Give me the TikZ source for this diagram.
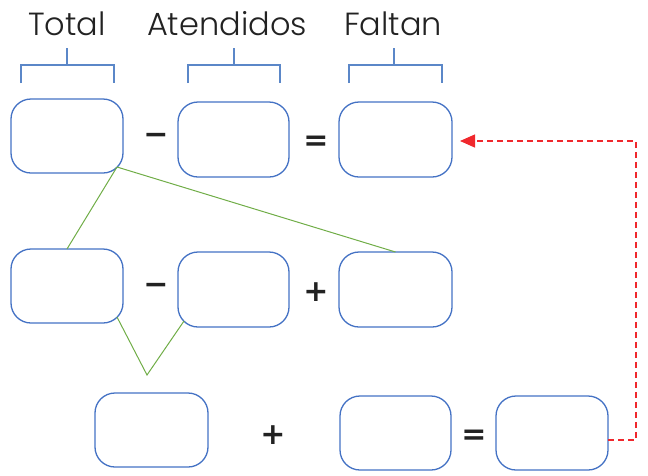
\documentclass[tikz,border=0pt]{standalone}
\usepackage{fontspec}
\setmainfont{Poppins}[UprightFont=* Light, BoldFont=* Medium]
\newfontfamily\opfont{DejaVu Sans}[UprightFont=* Bold]
\usetikzlibrary{arrows.meta,calc}
\definecolor{boxblue}{HTML}{4472C4}
\definecolor{brblue}{HTML}{5B87C8}
\definecolor{lgreen}{HTML}{70AD47}
\definecolor{lred}{HTML}{F0282D}
\definecolor{ink}{HTML}{222222}
\tikzset{
  slot/.style={draw=boxblue, line width=1.3pt, rounded corners=20pt, inner sep=0pt, outer sep=0pt},
  op/.style={font=\opfont\fontsize{30}{32}\selectfont, text=ink, inner sep=0pt},
  head/.style={font=\fontsize{32}{34}\selectfont, text=ink, anchor=base, inner sep=0pt},
  brace/.style={draw=brblue, line width=2.4pt},
  link/.style={draw=lgreen, line width=1pt},
  back/.style={draw=lred, line width=1.3pt, dash pattern=on 6pt off 4pt, -{Triangle[length=15pt,width=13pt]}},
}
\begin{document}
\begin{tikzpicture}[x=1pt,y=1pt]
\useasboundingbox (0,0) rectangle (648,-475);
% headings
\node[head] (tTotal) at (67,-35) {Total};
\node[head] (tAt) at (227,-35) {Atendidos};
\node[head] (tFal) at (393,-35) {Faltan};
% brackets
\draw[brace] (21,-83) -- (21,-65) -- (114,-65) -- (114,-83) (67,-65) -- (67,-48);
\draw[brace] (188,-83) -- (188,-65) -- (280,-65) -- (280,-83) (234,-65) -- (234,-48);
\draw[brace] (349,-83) -- (349,-65) -- (442,-65) -- (442,-83) (394,-65) -- (394,-48);
% boxes
\node[slot, minimum width=112pt, minimum height=74pt] (A) at (67,-136) {};
\node[slot, minimum width=111pt, minimum height=75pt] (B) at (233.5,-139.5) {};
\node[slot, minimum width=113pt, minimum height=75pt] (C) at (395.5,-139.5) {};
\node[slot, minimum width=112pt, minimum height=74pt] (D) at (67,-286) {};
\node[slot, minimum width=111pt, minimum height=75pt] (E) at (233.5,-289.5) {};
\node[slot, minimum width=113pt, minimum height=75pt] (F) at (395.5,-289.5) {};
\node[slot, minimum width=113pt, minimum height=74pt] (G) at (151.5,-430) {};
\node[slot, minimum width=111pt, minimum height=74pt] (H) at (395.5,-433) {};
\node[slot, minimum width=112pt, minimum height=74pt] (I) at (552,-433) {};
% operators
\node[op] (m1) at (156,-139) {−};
\node[op] (e1) at (316,-143) {=};
\node[op] (m2) at (156,-289) {−};
\node[op] (p1) at (316,-292) {+};
\node[op] (p2) at (273,-435) {+};
\node[op] (e2) at (474,-437) {=};
% green links
\coordinate (Ac) at ($(A.south east)+(-6,6)$);
\coordinate (Dc) at ($(D.south east)+(-6,6)$);
\coordinate (Ec) at ($(E.south west)+(6,6)$);
\coordinate (V) at (147,-375);
\draw[link] (Ac) -- (D.north);
\draw[link] (Ac) -- (F.north);
\draw[link] (Dc) -- (V) -- (Ec);
% red return arrow
\coordinate (r1) at ($(I.east)+(0,-7)$);
\coordinate (r2) at (636,-440);
\coordinate (r3) at (636,-141);
\coordinate (r4) at ($(C.east)+(8,-1.5)$);
\draw[back] (r1) -- (r2) -- (r3) -- (r4);
\end{tikzpicture}
\end{document}
